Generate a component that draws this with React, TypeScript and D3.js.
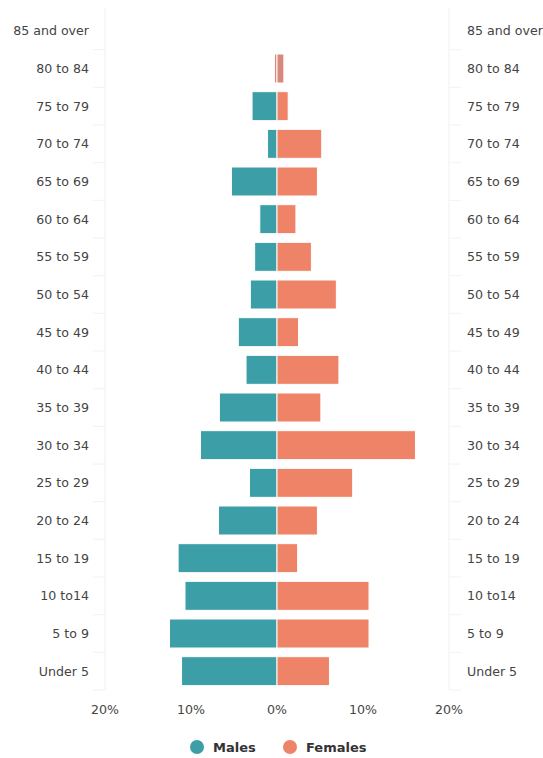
import React from "react";
import * as d3 from "d3";

const categories = [
  "85 and over", "80 to 84", "75 to 79", "70 to 74", "65 to 69", "60 to 64",
  "55 to 59", "50 to 54", "45 to 49", "40 to 44", "35 to 39", "30 to 34",
  "25 to 29", "20 to 24", "15 to 19", "10 to14", "5 to 9", "Under 5",
];
const males = [0, 0.3, 2.9, 1.1, 5.3, 2.0, 2.6, 3.1, 4.5, 3.6, 6.7, 8.9, 3.2, 6.8, 11.5, 10.7, 12.5, 11.1];
const females = [0, 0.8, 1.3, 5.2, 4.7, 2.2, 4.0, 6.9, 2.5, 7.2, 5.1, 16.1, 8.8, 4.7, 2.4, 10.7, 10.7, 6.1];
const xTicks = [-20, -10, 0, 10, 20];
const seriesNames = ["Males", "Females"];
const colors = ["#3c9fa7", "#ef8367"];

export default function App() {
  const W = 543, H = 758;
  const left = 105, right = 449, top = 12, bottom = 690;
  const x = d3.scaleLinear().domain([-20, 20]).range([left, right]);
  const yb = d3.scaleBand<string>().domain(categories).range([top, bottom]);
  const barH = yb.bandwidth() * 0.77;
  const by = (c: string) => yb(c)! + (yb.bandwidth() - barH) / 2;
  const font = "'DejaVu Sans', sans-serif";
  const txt = "#444";
  const fs = 12.6;
  return (
    <svg width={W} height={H} style={{ position: "absolute", left: 0, top: 0, background: "#fff" }} fontFamily={font}>
      {/* frame lines */}
      <line x1={left} x2={left} y1={top - 4} y2={bottom} stroke="#f0f0f0" />
      <line x1={right} x2={right} y1={top - 4} y2={bottom} stroke="#f0f0f0" />
      {categories.map((c, i) => (
        <g key={"t" + i}>
          <line x1={left - 12} x2={left} y1={yb(c)! + yb.bandwidth()} y2={yb(c)! + yb.bandwidth()} stroke="#f2f2f2" />
          <line x1={right} x2={right + 12} y1={yb(c)! + yb.bandwidth()} y2={yb(c)! + yb.bandwidth()} stroke="#f2f2f2" />
        </g>
      ))}
      {/* bars */}
      {categories.map((c, i) => (
        <g key={c}>
          {males[i] > 0 && (
            <rect x={x(-males[i])} y={by(c)} width={x(0) - x(-males[i])} height={barH}
              fill={i === 1 ? "#d9897b" : colors[0]} stroke="#fff" strokeWidth={1} />
          )}
          {females[i] > 0 && (
            <rect x={x(0)} y={by(c)} width={x(females[i]) - x(0)} height={barH}
              fill={i === 1 ? "#d9897b" : colors[1]} stroke="#fff" strokeWidth={1} />
          )}
        </g>
      ))}
      {/* category labels */}
      {categories.map((c) => (
        <g key={"l" + c} fontSize={fs} fill={txt}>
          <text x={89} y={yb(c)! + yb.bandwidth() / 2} dy="0.35em" textAnchor="end">{c}</text>
          <text x={467} y={yb(c)! + yb.bandwidth() / 2} dy="0.35em" textAnchor="start">{c}</text>
        </g>
      ))}
      {/* x ticks */}
      {xTicks.map((t) => (
        <text key={"x" + t} x={x(t)} y={710} dy="0.35em" textAnchor="middle" fontSize={fs} fill={txt}>
          {Math.abs(t) + "%"}
        </text>
      ))}
      {/* legend */}
      <g fontSize={13} fontWeight="bold" fill="#333">
        <circle cx={197} cy={747} r={7} fill={colors[0]} />
        <text x={213} y={747} dy="0.35em">{seriesNames[0]}</text>
        <circle cx={290} cy={747} r={7} fill={colors[1]} />
        <text x={306} y={747} dy="0.35em">{seriesNames[1]}</text>
      </g>
    </svg>
  );
}
